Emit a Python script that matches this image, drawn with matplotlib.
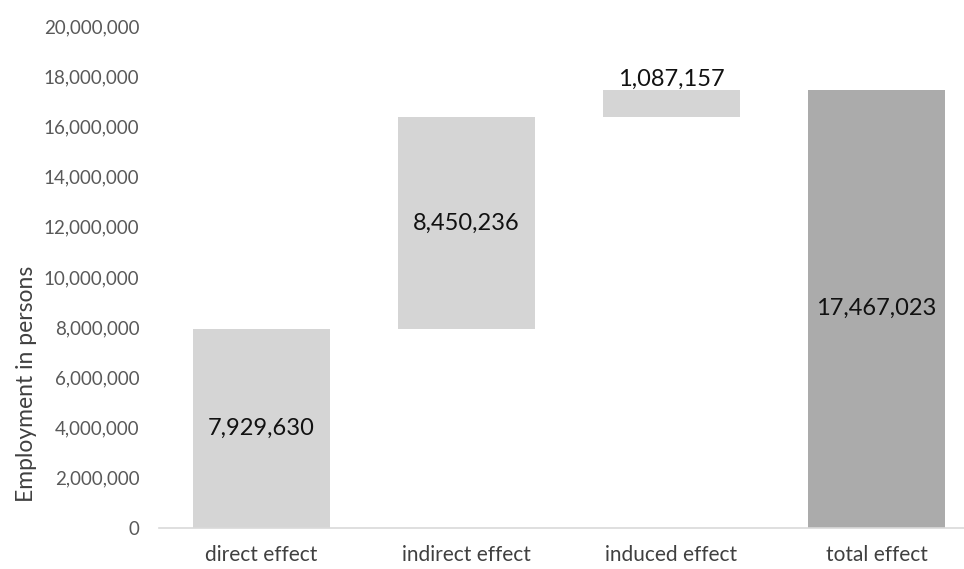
import matplotlib.pyplot as plt
from matplotlib.ticker import FuncFormatter

categories = ['direct effect', 'indirect effect', 'induced effect', 'total effect']
effects = [7929630, 8450236, 1087157]
total = 17467023
y_ticks = list(range(0, 20000001, 2000000))

plt.rcParams['font.family'] = ['Lato', 'DejaVu Sans']

fig = plt.figure(figsize=(9.64, 5.69), dpi=100)
ax = fig.add_axes([159 / 964, 1 - 528 / 569, (964 - 159) / 964, 502 / 569])

bottoms = [0, effects[0], effects[0] + effects[1]]
light = '#d5d5d5'
dark = '#ababab'
x = list(range(len(categories)))
ax.bar(x[:3], effects, bottom=bottoms, width=0.67, color=light)
ax.bar(x[3], total, width=0.67, color=dark)

# value labels
for i, (v, b) in enumerate(zip(effects, bottoms)):
    lbl = f'{v:,}'
    if i == 2:
        ax.text(i, b + v, lbl, ha='center', va='bottom', fontsize=17, color='#111111')
    else:
        ax.text(i, b + v / 2, lbl, ha='center', va='center', fontsize=17, color='#111111')
ax.text(3, total / 2, f'{total:,}', ha='center', va='center', fontsize=17, color='#111111')

ax.set_xlim(-0.5, (964 - 159) / 205 - 0.5)
ax.set_ylim(0, 20000000)
ax.set_yticks(y_ticks)
ax.yaxis.set_major_formatter(FuncFormatter(lambda v, p: f'{int(v):,}'))
ax.set_xticks(x)
ax.set_xticklabels(categories)
ax.tick_params(axis='y', length=0, pad=14, labelsize=13.5, labelcolor='#595959')
ax.tick_params(axis='x', length=0, pad=12, labelsize=15, labelcolor='#404040')
for s in ['top', 'right', 'left']:
    ax.spines[s].set_visible(False)
ax.spines['bottom'].set_color('#d9d9d9')
ax.spines['bottom'].set_linewidth(1.2)
ax.set_ylabel('Employment in persons', fontsize=16.5, color='#404040')
ax.yaxis.set_label_coords(-0.152, 0.287)

plt.savefig('out.png', dpi=100)
